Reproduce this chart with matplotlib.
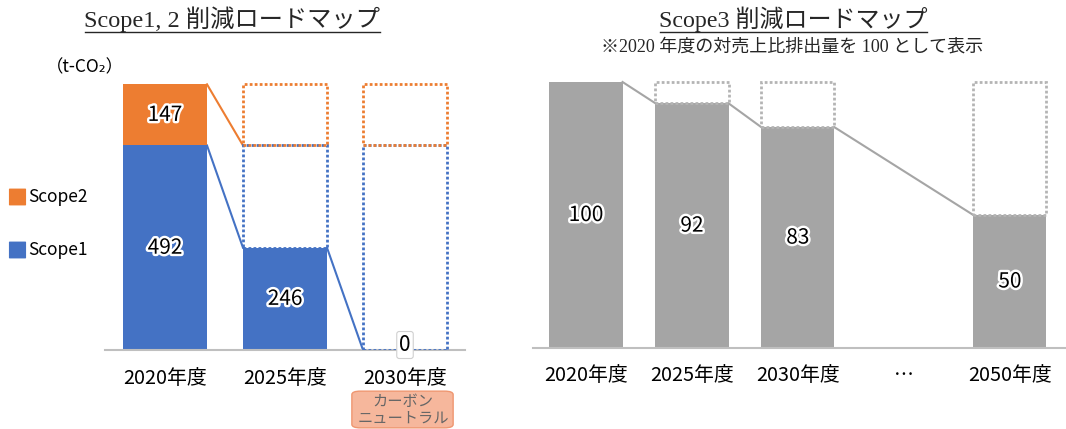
import numpy as np
import matplotlib.pyplot as plt
import matplotlib.patheffects as pe
from matplotlib.patches import FancyBboxPatch

plt.rcParams['font.family'] = ['Noto Sans CJK JP', 'DejaVu Sans']

# Scope1,2 (t-CO2)
years12 = ['2020年度', '2025年度', '2030年度']
scope1 = [492, 246, 0]
scope2 = [147, 0, 0]

# Scope3 (2020 = 100)
years3 = ['2020年度', '2025年度', '2030年度', '…', '2050年度']
scope3 = [100, 92, 83, None, 50]

ORANGE = '#ED7D31'
BLUE = '#4472C4'
GRAY = '#A5A5A5'
DOT = (0, (1, 0.8))
W = 1066 / 100
H = 429 / 100

fig = plt.figure(figsize=(W, H), dpi=100)
glow = [pe.withStroke(linewidth=3.5, foreground='white')]


def px(x0, y0, x1, y1):
    # pixel box (top-left origin) -> figure fraction rect
    return [x0 / 1066, 1 - y1 / 429, (x1 - x0) / 1066, (y1 - y0) / 429]


# ---- left: Scope1,2 ----
ax = fig.add_axes(px(105, 59, 465, 350))
x = np.arange(len(years12))
w = 0.7
ax.bar(x, scope1, w, color=BLUE, zorder=2)
ax.bar(x, scope2, w, bottom=scope1, color=ORANGE, zorder=2)

base1, base2 = scope1[0], scope2[0]
for i in range(1, len(x)):
    ax.bar(x[i], base1 - scope1[i], w, bottom=scope1[i], fill=False,
           edgecolor=BLUE, linestyle=DOT, linewidth=2, zorder=3)
    ax.bar(x[i], base2, w, bottom=base1 + scope2[i], fill=False,
           edgecolor=ORANGE, linestyle=DOT, linewidth=2, zorder=3)

ax.plot([x[0] + w / 2, x[1] - w / 2], [base1 + base2, base1], color=ORANGE, lw=1.5, zorder=1)
for i in range(len(x) - 1):
    ax.plot([x[i] + w / 2, x[i + 1] - w / 2], [scope1[i], scope1[i + 1]],
            color=BLUE, lw=1.5, zorder=1)

for i in range(len(x)):
    if scope1[i] > 0:
        ax.text(x[i], scope1[i] / 2, str(scope1[i]), ha='center', va='center',
                fontsize=15, path_effects=glow, zorder=5)
    else:
        ax.text(x[i], 12, str(scope1[i]), ha='center', va='center', fontsize=15,
                zorder=5, bbox=dict(boxstyle='round,pad=0.12', fc='white', ec='#D0D0D0', lw=0.8))
    if scope2[i] > 0:
        ax.text(x[i], scope1[i] + scope2[i] / 2, str(scope2[i]), ha='center', va='center',
                fontsize=15, path_effects=glow, zorder=5)

ax.set_xlim(-0.5, 2.5)
ax.set_ylim(0, 700)
ax.set_xticks(x)
ax.set_xticklabels(years12, fontsize=14.3)
ax.tick_params(axis='x', length=0, pad=13)
ax.set_yticks([])
for s in ['top', 'right', 'left']:
    ax.spines[s].set_visible(False)
ax.spines['bottom'].set_color('#BFBFBF')
ax.spines['bottom'].set_linewidth(1.5)

# legend
for ypx, col, lab in [(197, ORANGE, 'Scope2'), (250, BLUE, 'Scope1')]:
    fig.patches.append(FancyBboxPatch((10 / 1066, 1 - (ypx + 8) / 429), 15 / 1066, 16 / 429,
                                      boxstyle='round,pad=0.001', transform=fig.transFigure,
                                      fc=col, ec='none'))
    fig.text(28 / 1066, 1 - ypx / 429, lab, fontsize=12.5, va='center', ha='left')

fig.text(46 / 1066, 1 - 67 / 429, '（t-CO₂）', fontsize=12.5, va='center', ha='left')

# carbon neutral tag
fig.patches.append(FancyBboxPatch((354 / 1066, 1 - 427 / 429), 97 / 1066, 35 / 429,
                                  boxstyle='round,pad=0.002,rounding_size=0.008',
                                  transform=fig.transFigure, fc='#F6B79C', ec='#EF9670', lw=1))
fig.text(403 / 1066, 1 - 410 / 429, 'カーボン\nニュートラル', fontsize=11, color='#666666',
         ha='center', va='center', linespacing=0.95)

# ---- right: Scope3 ----
ax2 = fig.add_axes(px(533, 55.4, 1066, 348))
x3 = np.arange(len(years3))
w3 = 0.69
vals = [v for v in scope3 if v is not None]
xs = [xi for xi, v in zip(x3, scope3) if v is not None]
ax2.bar(xs, vals, w3, color=GRAY, zorder=2)
for xi, v in zip(xs[1:], vals[1:]):
    ax2.bar(xi, vals[0] - v, w3, bottom=v, fill=False, edgecolor='#B4B4B4',
            linestyle=DOT, linewidth=2, zorder=3)
for i in range(len(xs) - 1):
    ax2.plot([xs[i] + w3 / 2, xs[i + 1] - w3 / 2], [vals[i], vals[i + 1]],
             color=GRAY, lw=1.5, zorder=1)
for xi, v in zip(xs, vals):
    ax2.text(xi, v / 2, str(v), ha='center', va='center', fontsize=15,
             path_effects=glow, zorder=5)

ax2.set_xlim(-0.5, 4.53)
ax2.set_ylim(0, 110)
ax2.set_xticks(x3)
ax2.set_xticklabels(years3, fontsize=14.3)
ax2.tick_params(axis='x', length=0, pad=12)
ax2.set_yticks([])
for s in ['top', 'right', 'left']:
    ax2.spines[s].set_visible(False)
ax2.spines['bottom'].set_color('#BFBFBF')
ax2.spines['bottom'].set_linewidth(1.5)

# titles
serif = ['Liberation Serif', 'Noto Sans CJK JP']
fig.text(232 / 1066, 1 - 19 / 429, 'Scope1, 2 削減ロードマップ', family=serif, fontsize=17.5,
         ha='center', va='center', color='#262626')
fig.add_artist(plt.Line2D([85 / 1066, 380 / 1066], [1 - 32 / 429] * 2, color='#262626', lw=1))
fig.text(793 / 1066, 1 - 19 / 429, 'Scope3 削減ロードマップ', family=serif, fontsize=17.3,
         ha='center', va='center', color='#262626')
fig.add_artist(plt.Line2D([660 / 1066, 927 / 1066], [1 - 32 / 429] * 2, color='#262626', lw=1))
fig.text(792 / 1066, 1 - 47 / 429, '※2020 年度の対売上比排出量を 100 として表示', family=serif,
         fontsize=13, ha='center', va='center', color='#262626')

fig.savefig('out.png', dpi=100)
